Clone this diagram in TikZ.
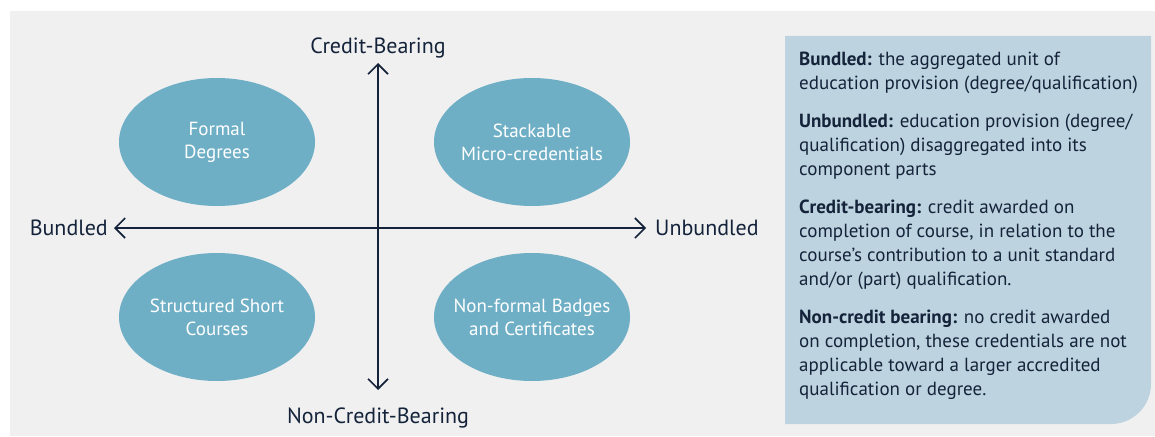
\documentclass[tikz,border=0pt]{standalone}
\usepackage{fontspec}
\setmainfont{PT Sans}
\usetikzlibrary{shapes.geometric,arrows.meta}
\definecolor{panelgray}{HTML}{F0F0F0}
\definecolor{ellblue}{HTML}{6FAFC6}
\definecolor{boxblue}{HTML}{BDD3DF}
\definecolor{navy}{HTML}{14233A}

\begin{document}
\begin{tikzpicture}[x=1pt,y=-1pt,
        >={Straight Barb[length=10pt,width=20pt,line width=1.6pt]},
        quad node/.style={ellipse,fill=ellblue,inner sep=0pt,
          minimum width=196pt,minimum height=128pt},
        quad text/.style={text=white,align=center,inner sep=0pt,
          font=\fontsize{19}{23}\selectfont},
        axis label/.style={text=navy,font=\fontsize{22}{24}\selectfont},
        axis/.style={<->,line width=1.6pt,draw=navy}]
        \useasboundingbox (0,0) rectangle (1155,436);
        \fill[panelgray] (10,11) rectangle (1155,436);
        % definitions panel
        \fill[boxblue] (785,36) -- (1151,36) -- (1151,384)
          .. controls (1151,406) and (1133,424) .. (1111,424) -- (785,424) -- cycle;
        \node[anchor=north west,text=navy,align=left,inner sep=0pt,
          font=\fontsize{19}{24}\selectfont] (defs) at (799,52)
          {\textbf{Bundled:} the aggregated unit of\\
           education provision (degree/qualification)\\[14pt]
           \textbf{Unbundled:} education provision (degree/\\
           qualification) disaggregated into its\\
           component parts\\[14pt]
           \textbf{Credit-bearing:} credit awarded on\\
           completion of course, in relation to the\\
           course’s contribution to a unit standard\\
           and/or (part) qualification.\\[14pt]
           \textbf{Non-credit bearing:} no credit awarded\\
           on completion, these credentials are not\\
           applicable toward a larger accredited\\
           qualification or degree.};
        % quadrants
        \node[quad node] (formal) at (217,142) {};
        \node[quad node] (stack) at (532,142) {};
        \node[quad node] (short) at (217,317) {};
        \node[quad node] (badge) at (532,317) {};
        \node[quad text] (formal text) at (formal) {Formal\\Degrees};
        \node[quad text] (stack text) at (stack) {Stackable\\Micro-credentials};
        \node[quad text] (short text) at (short) {Structured Short\\Courses};
        \node[quad text] (badge text) at (badge) {Non-formal Badges\\and Certificates};
        % axes
        \node[axis label,anchor=base] (cb) at (378,54) {Credit-Bearing};
        \node[axis label,anchor=base] (ncb) at (378,423) {Non-Credit-Bearing};
        \node[axis label,anchor=base east,inner sep=0pt] (bd) at (108,235) {Bundled};
        \node[axis label,anchor=base west,inner sep=0pt] (ub) at (655,235) {Unbundled};
        \coordinate (top) at (378,63);
        \coordinate (bottom) at (378,390);
        \coordinate (left) at (114,228);
        \coordinate (right) at (646,228);
        \draw[axis] (bottom) -- (top);
        \draw[axis] (left) -- (right);
\end{tikzpicture}
\end{document}
